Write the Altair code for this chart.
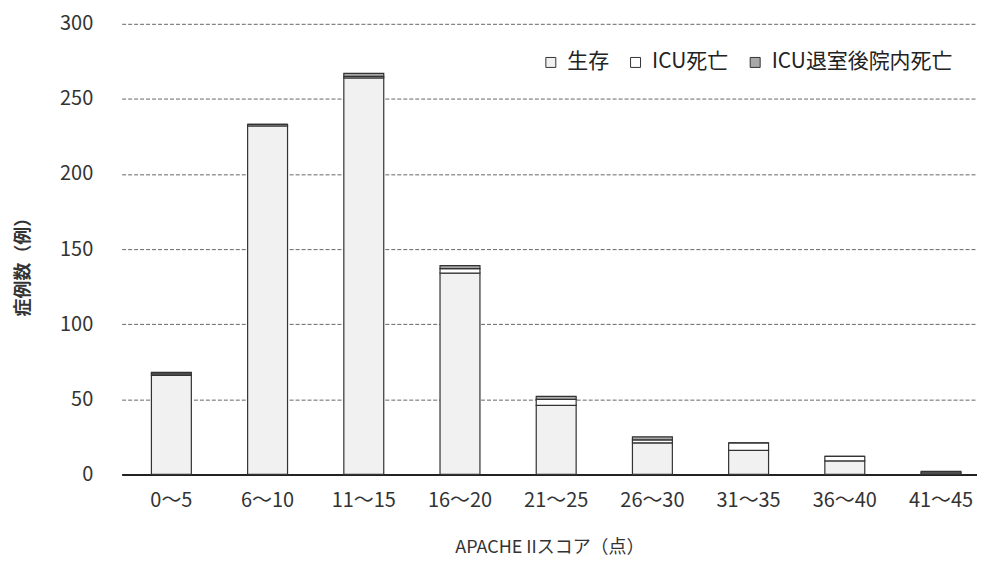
import altair as alt
import pandas as pd

categories = ["0～5", "6～10", "11～15", "16～20", "21～25", "26～30", "31～35", "36～40", "41～45"]
survival = [66, 232, 264, 134, 46, 21, 16, 9, 0]
icu_death = [1, 1, 1, 3, 4, 2, 5, 3, 1]
post_icu_death = [1, 0, 2, 2, 2, 2, 0, 0, 1]
series_names = ["生存", "ICU死亡", "ICU退室後院内死亡"]
series_colors = ["#f1f1f1", "#ffffff", "#a8a8a8"]

rows = []
for i, c in enumerate(categories):
    for k, (name, vals) in enumerate(zip(series_names, [survival, icu_death, post_icu_death])):
        rows.append({"score": c, "group": name, "count": vals[i], "order": k})
df = pd.DataFrame(rows)

FONT = "Noto Sans CJK JP"

chart = alt.Chart(df).mark_bar(stroke="#333333", strokeWidth=1.2).encode(
    x=alt.X("score:N", sort=categories,
            scale=alt.Scale(paddingInner=0.585, paddingOuter=0.238, align=0.65),
            axis=alt.Axis(title="APACHE IIスコア（点）", labelAngle=0, ticks=False,
                          labelPadding=16, titlePadding=28, domainColor="#222222",
                          domainWidth=2, labelFontSize=20, titleFontSize=18,
                          titleFontWeight="normal", labelColor="#333333", titleColor="#333333")),
    y=alt.Y("count:Q", stack="zero",
            scale=alt.Scale(domain=[0, 300]),
            axis=alt.Axis(title="症例数（例）", values=[0, 50, 100, 150, 200, 250, 300],
                          ticks=False, domain=False, labelPadding=29,
                          gridDash=[4, 2], gridColor="#666666", gridWidth=1,
                          labelFontSize=20, titleFontSize=18, titleFontWeight="bold",
                          labelColor="#333333", titleColor="#333333",
                          titleX=-98, titleY=239, titleBaseline="middle")),
    color=alt.Color("group:N", sort=series_names,
                    scale=alt.Scale(domain=series_names, range=series_colors),
                    legend=alt.Legend(title=None, orient="none", direction="horizontal",
                                      legendX=420, legendY=28, symbolType="square",
                                      symbolSize=100, symbolStrokeColor="#333333",
                                      symbolStrokeWidth=1, labelFontSize=21,
                                      labelColor="#222222", columnPadding=16,
                                      labelOffset=6, labelLimit=400)),
    order=alt.Order("order:Q"),
).properties(
    width=858, height=452,
    autosize=alt.AutoSizeParams(type="none"),
    padding={"left": 114, "top": 15, "right": 0, "bottom": 88},
).configure(font=FONT).configure_view(stroke=None)

chart.save("out.html", embed_options={"renderer": "svg", "actions": False})
